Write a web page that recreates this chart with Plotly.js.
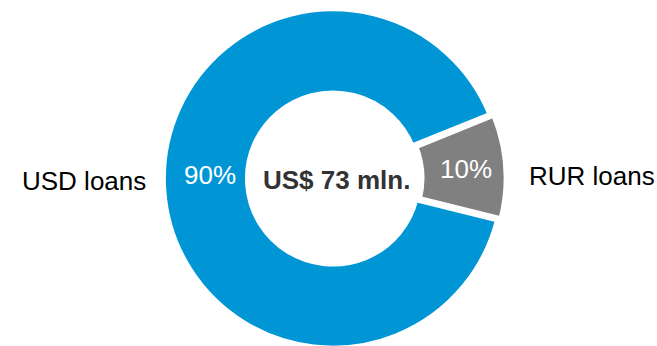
<!DOCTYPE html>
<html>
<head>
<meta charset="utf-8">
<script src="https://cdn.plot.ly/plotly-3.0.1.min.js"></script>
<style>
html,body{margin:0;padding:0;overflow:hidden;background:#fff;}
#chart{width:657px;height:352px;}
</style>
</head>
<body>
<div id="chart"></div>
<script>
const labels = ["USD loans", "RUR loans"];
const values = [90, 10];
const colors = ["#0096D6", "#808080"];
const pulls = [0, 0.02];
const centerLabel = "US$ 73 mln.";

const FONT = "Liberation Sans, Arial, sans-serif";
const total = values.reduce((a, b) => a + b, 0);
const pct = values.map(v => Math.round(v / total * 100) + "%");

const trace = {
  type: "pie",
  labels: labels,
  values: values,
  hole: 0.5,
  sort: false,
  direction: "clockwise",
  rotation: 104,
  pull: pulls,
  marker: {colors: colors, line: {color: "#ffffff", width: 6}},
  texttemplate: ["", "%{percent}"],
  textposition: "inside",
  insidetextorientation: "horizontal",
  insidetextfont: {family: FONT, size: 26, color: "#ffffff"},
  domain: {x: [9/657, 1], y: [0, 1]},
  showlegend: false,
  hoverinfo: "none"
};

const layout = {
  width: 657,
  height: 352,
  margin: {l: 0, r: 0, t: 5, b: 0},
  paper_bgcolor: "#ffffff",
  plot_bgcolor: "#ffffff",
  showlegend: false,
  annotations: [
    {text: labels[0], xref: "paper", yref: "paper", x: 20/657, y: 0.493,
     xanchor: "left", yanchor: "middle", showarrow: false,
     font: {family: FONT, size: 26, color: "#000000"}},
    {text: labels[1], xref: "paper", yref: "paper", x: 527/657, y: 0.507,
     xanchor: "left", yanchor: "middle", showarrow: false,
     font: {family: FONT, size: 26, color: "#000000"}},
    {text: pct[0], xref: "paper", yref: "paper", x: 210/657, y: 0.511,
     xanchor: "center", yanchor: "middle", showarrow: false,
     font: {family: FONT, size: 26, color: "#ffffff"}},
    {text: "<b>" + centerLabel + "</b>", xref: "paper", yref: "paper", x: 336/657, y: 0.496,
     xanchor: "center", yanchor: "middle", showarrow: false,
     font: {family: FONT, size: 26, color: "#333333"}}
  ]
};

Plotly.newPlot("chart", [trace], layout, {displayModeBar: false, staticPlot: true});
</script>
</body>
</html>
